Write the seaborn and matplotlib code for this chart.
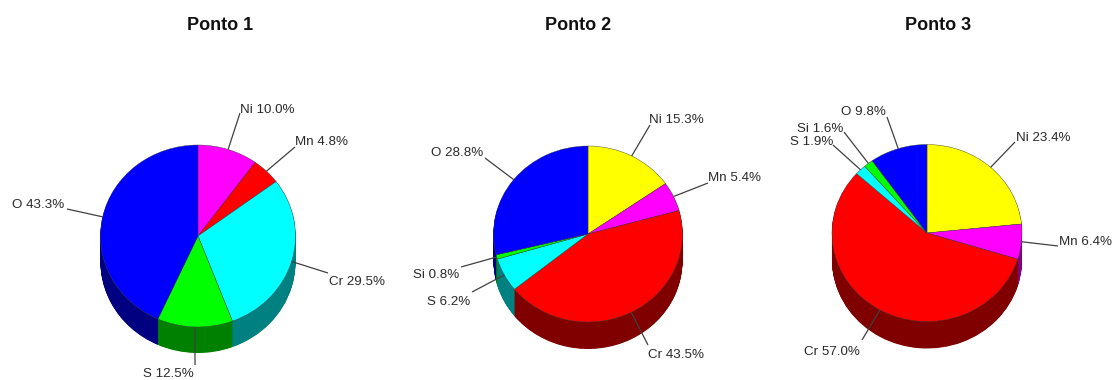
import numpy as np
import matplotlib
matplotlib.use("Agg")
import matplotlib.pyplot as plt
import matplotlib.colors as mc
import seaborn as sns

sns.set_theme(style="white")
plt.rcParams['font.family'] = ['Liberation Sans', 'DejaVu Sans']

# Data, clockwise from 12 o'clock
titles = ["Ponto 1", "Ponto 2", "Ponto 3"]
p1_elements = ["Ni", "Mn", "Cr", "S", "O"]
p1_values = [10.0, 4.8, 29.5, 12.5, 43.3]
p1_colors = ["#ff00ff", "#ff0000", "#00ffff", "#00ff00", "#0000ff"]
p2_elements = ["Ni", "Mn", "Cr", "S", "Si", "O"]
p2_values = [15.3, 5.4, 43.5, 6.2, 0.8, 28.8]
p2_colors = ["#ffff00", "#ff00ff", "#ff0000", "#00ffff", "#00ff00", "#0000ff"]
p3_elements = ["Ni", "Mn", "Cr", "S", "Si", "O"]
p3_values = [23.4, 6.4, 57.0, 1.9, 1.6, 9.8]
p3_colors = ["#ffff00", "#ff00ff", "#ff0000", "#00ffff", "#00ff00", "#0000ff"]

# Layout in image pixels
W, H = 1114, 380
geometry = [(198, 236, 97.5, 91, 26), (588, 234, 94.5, 88, 27), (927, 233, 95, 88.5, 27)]
title_pos = [(220, 26), (578, 26), (938, 26)]
# leader end x, leader end y, text anchor x, text centre y, alignment
p1_labels = [(240, 113, 240, 110, "left"), (295, 147, 295, 142, "left"),
             (328, 273, 329, 282, "left"), (195, 365, 194, 374, "right"),
             (67, 209, 64, 205, "right")]
p2_labels = [(650, 125, 649, 120, "left"), (708, 183, 708, 178, "left"),
             (648, 345, 648, 355, "left"), (472, 292, 470, 302, "right"),
             (461, 267, 459, 275, "right"), (485, 158, 483, 153, "right")]
p3_labels = [(1015, 142, 1016, 138, "left"), (1058, 246, 1059, 242, "left"),
             (862, 340, 860, 352, "right"), (833, 145, 833, 142, "right"),
             (844, 132, 843, 129, "right"), (887, 117, 886, 112, "right")]

points = [(p1_elements, p1_values, p1_colors, p1_labels),
          (p2_elements, p2_values, p2_colors, p2_labels),
          (p3_elements, p3_values, p3_colors, p3_labels)]

fig = plt.figure(figsize=(W / 100, H / 100), dpi=100, facecolor="white")
text_color = "#2a2a2a"

for (cx, cy, rx, ry, depth), (els, vals, cols, labs) in zip(geometry, points):
    pad = 4
    left, right = cx - rx - pad, cx + rx + pad
    top, bottom = cy - ry - pad, cy + ry + depth + pad
    ax = fig.add_axes([left / W, 1 - bottom / H, (right - left) / W, (bottom - top) / H])
    dark = [tuple(0.5 * c for c in mc.to_rgb(col)) for col in cols]
    for off in np.arange(depth, 0, -0.5):
        ax.pie(vals, colors=dark, startangle=90, counterclock=False,
               center=(0, -off / ry), wedgeprops={"linewidth": 0})
    ax.pie(vals, colors=cols, startangle=90, counterclock=False, center=(0, 0),
           wedgeprops={"linewidth": 0.3, "edgecolor": "#404040"})
    ax.set_aspect("auto")
    ax.set_xlim(-(rx + pad) / rx, (rx + pad) / rx)
    ax.set_ylim(-(ry + depth + pad) / ry, (ry + pad) / ry)
    ax.axis("off")

overlay = fig.add_axes([0, 0, 1, 1], facecolor="none")
overlay.set_xlim(0, W)
overlay.set_ylim(H, 0)
overlay.axis("off")

for (cx, cy, rx, ry, depth), (els, vals, cols, labs) in zip(geometry, points):
    fr = np.cumsum(vals) / np.sum(vals)
    mids = fr - np.asarray(vals) / np.sum(vals) / 2
    for el, v, m, (ex, ey, tx, ty, ha) in zip(els, vals, mids, labs):
        a = 2 * np.pi * m
        sx, sy = cx + rx * np.sin(a), cy - ry * np.cos(a)
        overlay.plot([sx, ex], [sy, ey], color="#404040", lw=0.9, solid_capstyle="butt")
        overlay.text(tx, ty, f"{el} {v:.1f}%", ha=ha, va="center", fontsize=9.6, color=text_color)

for t, (x, y) in zip(titles, title_pos):
    overlay.text(x, y, t, ha="center", va="center", fontsize=13, fontweight="bold", color="#111111")

fig.savefig("out.png", dpi=100, facecolor="white")
